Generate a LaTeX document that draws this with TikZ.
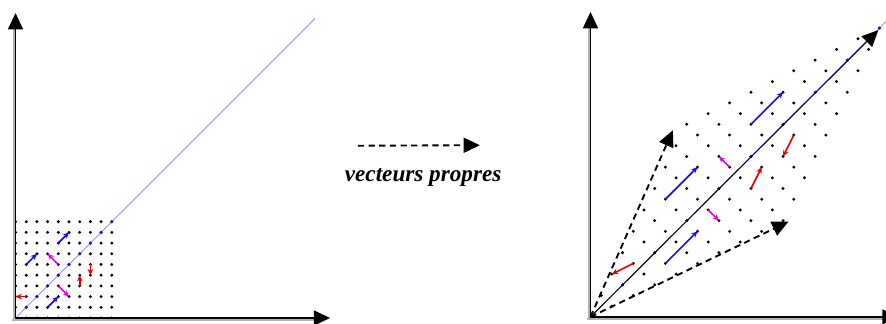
\documentclass[tikz,border=0pt]{standalone}
\usepackage{fontspec}
\setmainfont{Liberation Serif}
\usepackage{tikz}
\usetikzlibrary{arrows.meta}

\definecolor{diagblue}{RGB}{170,170,255}
\definecolor{vecblue}{RGB}{20,20,225}
\definecolor{vecmag}{RGB}{230,0,230}
\definecolor{vecred}{RGB}{230,0,0}

\tikzset{
  axis/.style={line width=1.1pt, -{Triangle[length=13pt,width=12pt]}},
  axisshade/.style={line width=1.5pt, black!30},
  dasharrow/.style={line width=1.5pt, dash pattern=on 5pt off 3.5pt, -{Triangle[length=13pt,width=12pt]}},
  eigenarrow/.style={line width=0.8pt, -{Triangle[length=13pt,width=12pt]}},
  vec/.style={line width=1.3pt, -{Stealth[length=5pt,width=4.5pt]}},
  diag/.style={diagblue, line width=0.9pt},
}

\begin{document}
\begin{tikzpicture}[x=0.3cm, y=0.3cm]
    \useasboundingbox (-1.45,-0.47) rectangle (81.36,29.72);

    % Left plane: grid before the map
    \coordinate (orig) at (0,0);
    \draw[diag] (orig) -- (28,28);
    \foreach \i in {0,...,9}
        \foreach \j in {0,...,9}
            \fill (\i,\j) circle (1.3pt);
    \foreach \i in {0,...,9}
        \fill[vecblue] (\i,\i) circle (1.3pt);

    % Left axes
    \draw[axisshade] (-0.3,-0.18) -- (28,-0.18);
    \draw[axisshade] (-0.18,-0.3) -- (-0.18,27.2);
    \draw[axis] (orig) -- (29.4,0);
    \draw[axis] (orig) -- (0,28.5);

    % Left vectors
    \draw[vec, vecblue] (4,7) -- (5,8);
    \draw[vec, vecblue] (1,5) -- (2,6);
    \draw[vec, vecblue] (3,1) -- (4,2);
    \draw[vec, vecmag] (4,5) -- (3,6);
    \draw[vec, vecmag] (4,3) -- (5,2);
    \draw[vec, vecred] (6,3) -- (6,4);
    \draw[vec, vecred] (7,5) -- (7,4);
    \draw[vec, vecred] (1,2) -- (0,2);

    % Middle arrow and label
    \coordinate (mapstart) at (32.0,16.1);
    \coordinate (mapend) at (43.4,16.15);
    \draw[dasharrow] (mapstart) -- (mapend);
    \node (label) [anchor=base, font=\fontsize{18.5}{22}\selectfont\bfseries\itshape] at (38.1,12.75) {vecteurs propres};

    % Right plane: grid after the map
    \begin{scope}[shift={(53.74,0.1)}]
        \coordinate (img) at (0,0);
        \draw[diag] (img) -- (28,28);
        \foreach \i in {0,...,9}
            \foreach \j in {0,...,9}
                \fill ({2*\i+\j},{\i+2*\j}) circle (1.3pt);
        \foreach \i in {0,...,9}
            \fill[vecblue] ({3*\i},{3*\i}) circle (1.3pt);

        % Right axes
        \draw[axisshade] (-0.3,-0.18) -- (28,-0.18);
        \draw[axisshade] (-0.18,-0.3) -- (-0.18,27.2);
        \draw[axis] (img) -- (28.8,0);
        \draw[axis] (img) -- (0,28.5);

        % Images of the edges and of the diagonal
        \coordinate (edgey) at (7.7,17.45);
        \coordinate (edgex) at (18.5,8.9);
        \coordinate (eigen) at (26.9,26.8);
        \draw[dasharrow] (img) -- (edgey);
        \draw[dasharrow] (img) -- (edgex);
        \draw[eigenarrow] (img) -- (eigen);

        % Right vectors
        \draw[vec, vecblue] (15,18) -- (18,21);
        \draw[vec, vecblue] (7,11) -- (10,14);
        \draw[vec, vecblue] (7,5) -- (10,8);
        \draw[vec, vecmag] (13,14) -- (12,15);
        \draw[vec, vecmag] (11,10) -- (12,9);
        \draw[vec, vecred] (15,12) -- (16,14);
        \draw[vec, vecred] (19,17) -- (18,15);
        \draw[vec, vecred] (4,5) -- (2,4);
    \end{scope}
\end{tikzpicture}
\end{document}
